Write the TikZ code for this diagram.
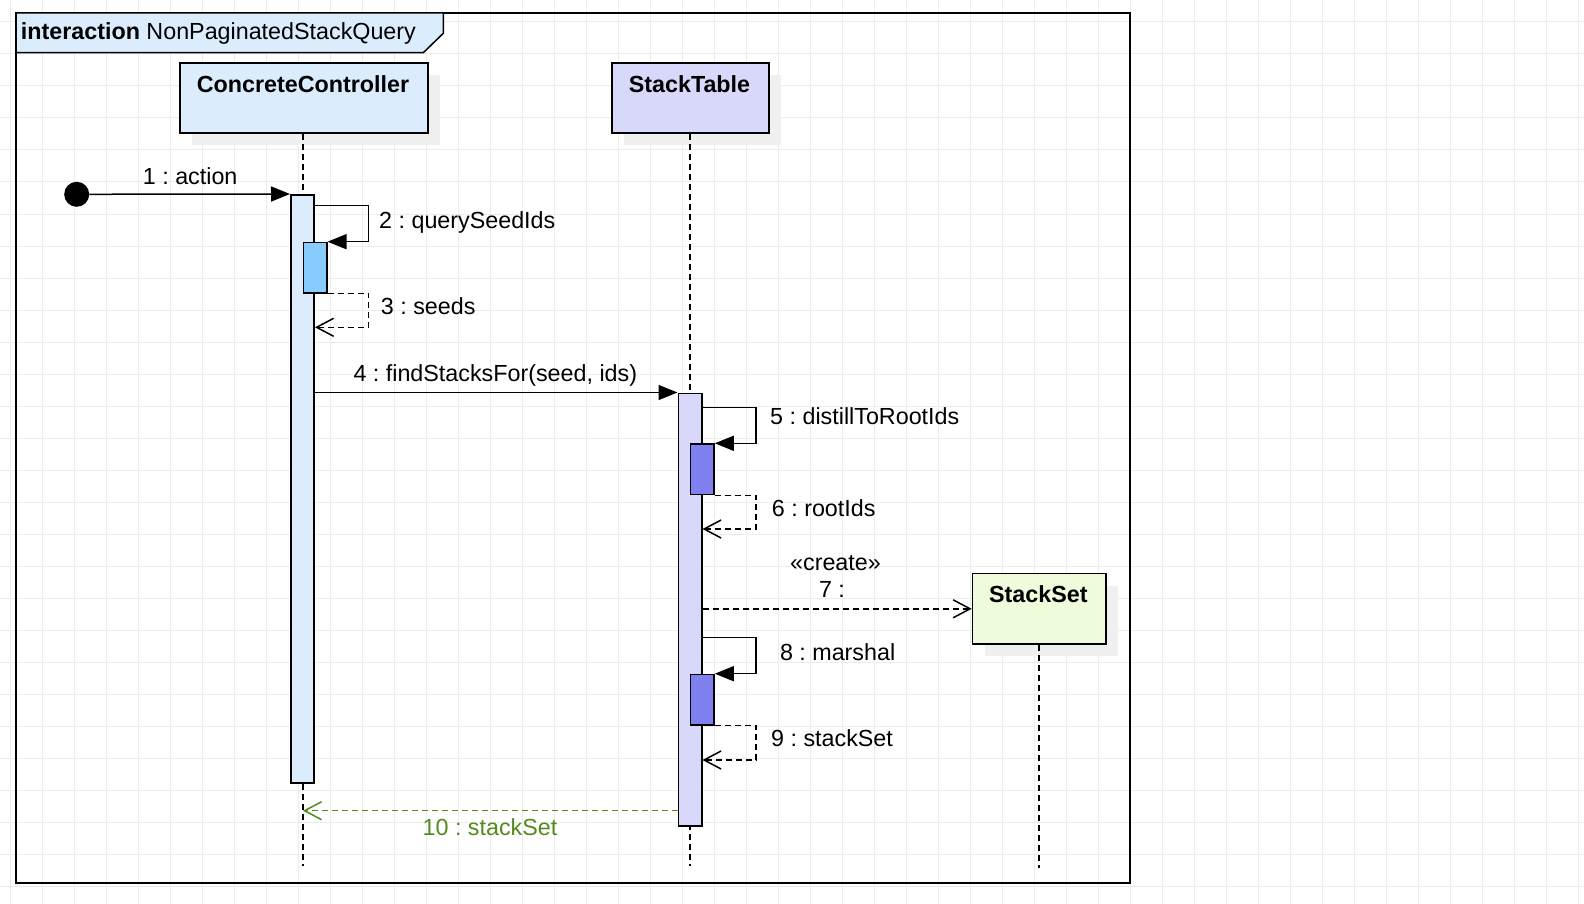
\documentclass[tikz,border=0pt]{standalone}
\usepackage{fontspec}
\setmainfont{Liberation Sans}
\usetikzlibrary{arrows.meta,shadows}
\definecolor{ccfill}{RGB}{219,237,252}
\definecolor{ccnest}{RGB}{136,204,255}
\definecolor{stfill}{RGB}{216,216,250}
\definecolor{stnest}{RGB}{128,128,240}
\definecolor{ssfill}{RGB}{238,252,220}
\definecolor{retgreen}{RGB}{86,138,30}
\definecolor{gridc}{RGB}{236,236,236}
\definecolor{shadowc}{RGB}{240,240,240}
\frenchspacing
\begin{document}
\begin{tikzpicture}[x=1pt,y=-1pt,
  font=\fontsize{23.3}{27}\selectfont,
  lbl/.style={inner sep=0pt, anchor=base west},
  boxtitle/.style={inner sep=0pt, anchor=base, font=\fontsize{23.3}{27}\selectfont\bfseries},
  lifebox/.style={draw, line width=1.7pt, inner sep=0pt, minimum height=70.5pt, anchor=north west,
    drop shadow={shadow xshift=12pt, shadow yshift=-12pt, fill=shadowc, opacity=1}},
  act/.style={draw, line width=1.6pt, inner sep=0pt, minimum width=23.4pt, anchor=north},
  lifeline/.style={line width=1.5pt, dash pattern=on 6pt off 4pt},
  msg/.style={line width=1.5pt, -{Triangle[length=19pt,width=15pt]}},
  ret/.style={line width=1.5pt, dash pattern=on 6pt off 4pt, -{Straight Barb[length=17pt,width=18pt]}},
  gridline/.style={draw=gridc, line width=1pt}]
\useasboundingbox (0,0) rectangle (1584,904);
\fill[white] (0,0) rectangle (1584,904);
% canvas grid
\foreach \x in {10,42,...,1578} \draw[gridline] (\x,0) -- (\x,904);
\foreach \y in {22,54,...,886} \draw[gridline] (0,\y) -- (1584,\y);
% frame
\draw[line width=2pt] (16,13) rectangle (1130,883);
\draw[line width=1.5pt, fill=ccfill] (16,13) -- (443.3,13) -- (443.3,33.3) -- (423.3,52.7) -- (16,52.7) -- cycle;
\node[inner sep=0pt, anchor=base west] (title) at (20.7,39.3) {\textbf{interaction} NonPaginatedStackQuery};
% lifeline heads
\node[lifebox, fill=ccfill, minimum width=248pt] (cc) at (179,62) {};
\node[boxtitle] (cct) at (303,92.3) {ConcreteController};
\node[lifebox, fill=stfill, minimum width=157pt] (st) at (611,62) {};
\node[boxtitle] (stt) at (689.5,92.3) {StackTable};
\node[lifebox, fill=ssfill, minimum width=133.3pt] (ss) at (971.7,572.7) {};
\node[boxtitle] (sst) at (1038.4,602.7) {StackSet};
% lifelines
\coordinate (ccend) at (303,866);
\coordinate (stend) at (690,866);
\coordinate (ssend) at (1039,868);
\draw[lifeline] (cc.south -| ccend) -- (ccend);
\draw[lifeline] (st.south -| stend) -- (stend);
\draw[lifeline] (ss.south -| ssend) -- (ssend);
% activations
\node[act, fill=ccfill, minimum height=588pt] (cca) at (302.5,194) {};
\node[act, fill=ccnest, minimum height=50.3pt] (ccn) at (315,241.7) {};
\node[act, fill=stfill, minimum height=432.5pt] (sta) at (690,392.5) {};
\node[act, fill=stnest, minimum height=50.4pt] (stn1) at (702.3,443.3) {};
\node[act, fill=stnest, minimum height=50.3pt] (stn2) at (702.3,673.7) {};
% start point
\node[circle, fill=black, minimum size=25pt, inner sep=0pt] (init) at (76.7,194.3) {};
% messages
\draw[msg] (init) -- (cca.north west);
\node[lbl] (l1) at (142.7,184.3) {1 : action};
\coordinate (c2) at (368.7,205.3);
\draw[msg] (cca.east |- c2) -- (c2) |- (ccn.north east);
\node[lbl] (l2) at (379,229) {2 : querySeedIds};
\coordinate (c3) at (368.7,327.3);
\draw[ret] (ccn.south east) -| (c3) -- (cca.east |- c3);
\node[lbl] (l3) at (380.7,314.3) {3 : seeds};
\draw[msg] (cca.east |- sta.north) -- (sta.north west);
\node[lbl] (l4) at (353.3,381.5) {4 : findStacksFor(seed, ids)};
\coordinate (c5) at (756,407.3);
\draw[msg] (sta.east |- c5) -- (c5) |- (stn1.north east);
\node[lbl] (l5) at (770,424.3) {5 : distillToRootIds};
\coordinate (c6) at (756,529);
\draw[ret] (stn1.south east) -| (c6) -- (sta.east |- c6);
\node[lbl] (l6) at (771.7,516.7) {6 : rootIds};
\draw[ret] (sta.east |- ss.west) -- (ss.west);
\node[inner sep=0pt, anchor=base] (l7a) at (835.5,570.7) {«create»};
\node[inner sep=0pt, anchor=base] (l7b) at (832,597.3) {7 :};
\coordinate (c8) at (756,637.7);
\draw[msg] (sta.east |- c8) -- (c8) |- (stn2.north east);
\node[lbl] (l8) at (779.8,660.7) {8 : marshal};
\coordinate (c9) at (756,760);
\draw[ret] (stn2.south east) -| (c9) -- (sta.east |- c9);
\node[lbl] (l9) at (771,746.7) {9 : stackSet};
\coordinate (c10) at (303,810.7);
\draw[ret, draw=retgreen] (sta.west |- c10) -- (c10);
\node[inner sep=0pt, anchor=base, text=retgreen] (l10) at (490,835) {10 : stackSet};
\end{tikzpicture}
\end{document}
